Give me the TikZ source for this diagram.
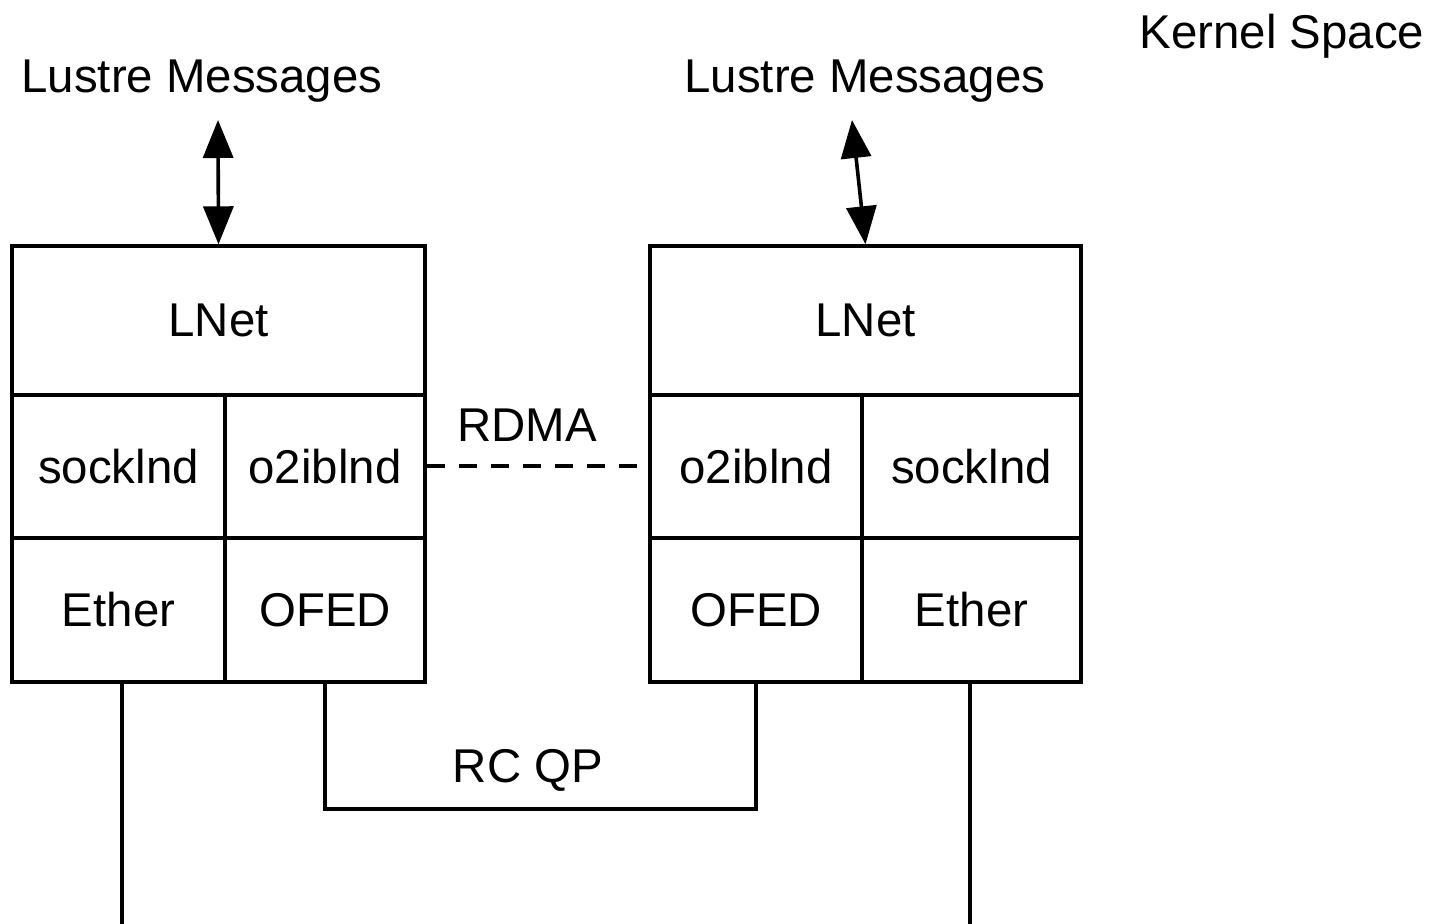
\documentclass[tikz,border=0pt]{standalone}
\usepackage{fontspec}
\setmainfont{Liberation Sans}
\usetikzlibrary{positioning,arrows.meta}

\tikzset{
    lbl/.style={font=\fontsize{23.7}{28}\selectfont, inner sep=0pt},
    cell/.style={lbl, draw, line width=1.7pt, minimum height=#1},
    cell/.default=71.5pt,
    wire/.style={line width=1.7pt},
    msgarrow/.style={line width=1.8pt, {Triangle[length=19pt,width=15pt]}-{Triangle[length=19pt,width=15pt]}}
}

\begin{document}
\begin{tikzpicture}[x=0.5pt,y=-0.5pt]
        \useasboundingbox (0,0) rectangle (1437,924);
        \node[lbl] (kernel) at (1282,36) {Kernel Space};
        \node[lbl] (msgL) at (202,81) {Lustre Messages};
        \node[lbl] (msgR) at (865,81) {Lustre Messages};
        \node[cell=74.5pt, minimum width=206.5pt] (lnetL) at (218.5,320.5) {LNet};
        \node[cell, minimum width=106.5pt] (sockL) at (118.5,466.5) {socklnd};
        \node[cell, minimum width=100pt] (o2ibL) at (325,466.5) {o2iblnd};
        \node[cell=72pt, minimum width=106.5pt] (etherL) at (118.5,610) {Ether};
        \node[cell=72pt, minimum width=100pt] (ofedL) at (325,610) {OFED};
        \node[cell=74.5pt, minimum width=215.5pt] (lnetR) at (865.5,320.5) {LNet};
        \node[cell, minimum width=106pt] (o2ibR) at (756,466.5) {o2iblnd};
        \node[cell, minimum width=109.5pt] (sockR) at (971.5,466.5) {socklnd};
        \node[cell=72pt, minimum width=106pt] (ofedR) at (756,610) {OFED};
        \node[cell=72pt, minimum width=109.5pt] (etherR) at (971.5,610) {Ether};
        \node[lbl] (rdma) at (527,425) {RDMA};
        \node[lbl] (rcqp) at (528,770) {RC QP};
        \coordinate (tipL) at (218,120);
        \coordinate (tipR) at (852,120);
        \coordinate (gndL) at (122,924);
        \coordinate (gndR) at (970,924);
        \coordinate (qp) at (540,809);
        \draw[msgarrow] (tipL) -- (lnetL.north);
        \draw[msgarrow] (tipR) -- (lnetR.north);
        \draw[line width=2pt, dash pattern=on 9pt off 7pt] (o2ibL.east) -- (o2ibR.west);
        \draw[wire] (ofedL.south) -- (ofedL.south |- qp) -- (ofedR.south |- qp) -- (ofedR.south);
        \draw[wire] (gndL |- etherL.south) -- (gndL);
        \draw[wire] (gndR |- etherR.south) -- (gndR);
    \end{tikzpicture}
\end{document}
